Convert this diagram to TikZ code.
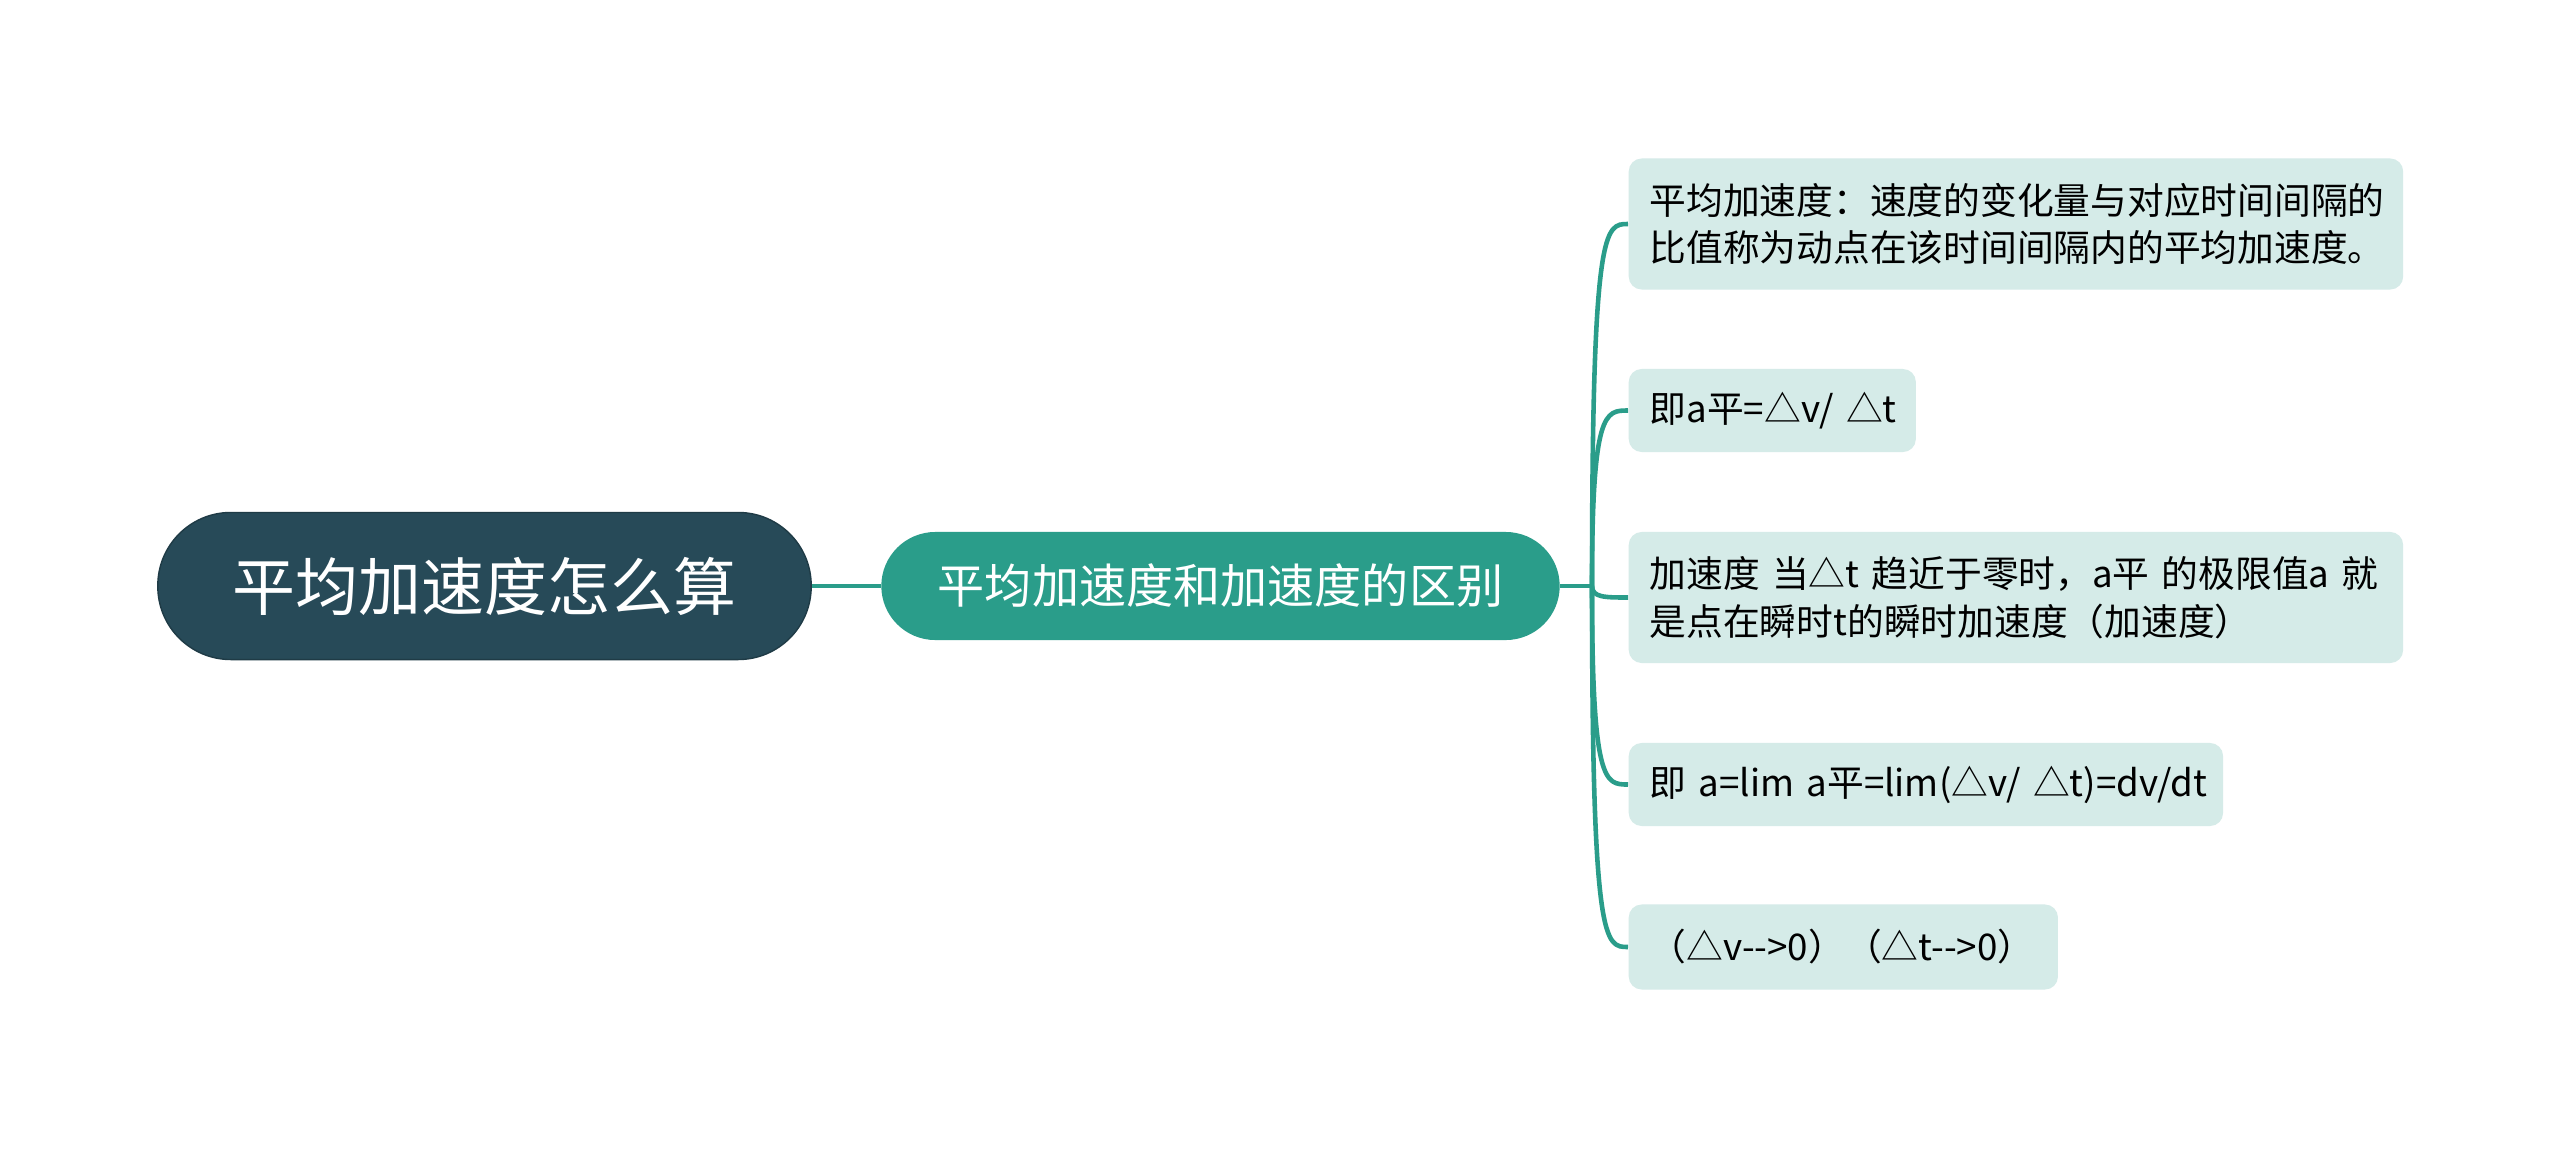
\documentclass[tikz,border=0pt]{standalone}
\usepackage{fontspec}
\setmainfont{Noto Sans CJK SC}
\definecolor{rootc}{HTML}{274A58}
\definecolor{subc}{HTML}{2A9D8A}
\definecolor{linec}{HTML}{2A9D8A}
\definecolor{leafc}{HTML}{D5EBE8}
\begin{document}
\begin{tikzpicture}[x=0.01cm,y=-0.01cm,
  rootbox/.style={fill=rootc,draw=rootc!80!black,line width=0.4pt,rounded corners=0.73cm,
    minimum width=6.53cm,minimum height=1.47cm,inner sep=0pt,text=white,
    font=\fontsize{17.9pt}{21pt}\selectfont},
  subbox/.style={fill=subc,rounded corners=0.54cm,minimum width=6.78cm,minimum height=1.08cm,
    inner sep=0pt,text=white,font=\fontsize{13.4pt}{16pt}\selectfont},
  leafbox/.style={fill=leafc,rounded corners=0.13cm,anchor=west,inner xsep=0.21cm,inner ysep=0pt,
    align=left,minimum height=#1,font=\fontsize{10.45pt}{13.5pt}\selectfont,text=black},
  conn/.style={draw=linec,line width=1.3pt}]
\useasboundingbox[fill=white] (0,0) rectangle (2560,1148);

\node[rootbox] (root) at (484.5,586) {平均加速度怎么算};
\node[subbox] (sub) at (1220.5,586) {平均加速度和加速度的区别};

\node[leafbox=1.31cm,text width=7.32cm] (l1) at (1628,224)
  {平均加速度：速度的变化量与对应时间间隔的\\比值称为动点在该时间间隔内的平均加速度。};
\node[leafbox=0.83cm,text width=2.45cm] (l2) at (1628,410.5)
  {\mbox{即a平=△v/ △t}};
\node[leafbox=1.31cm,text width=7.32cm] (l3) at (1628,597.5)
  {加速度 当△t 趋近于零时，a平 的极限值a 就\\是点在瞬时t的瞬时加速度（加速度）};
\node[leafbox=0.83cm,text width=5.52cm] (l4) at (1628,784.5)
  {\mbox{即 a=lim a平=lim(△v/ △t)=dv/dt}};
\node[leafbox=0.85cm,text width=3.87cm] (l5) at (1628,947)
  {\mbox{（△v-{}-{}>0）（△t-{}-{}>0）}};

\draw[conn] (root.east) -- (sub.west);
\coordinate (tr) at (1592,586);
\draw[conn] (sub.east) -- (tr);
\draw[conn] (tr) .. controls (1592,224) and (1605,224) .. (l1.west);
\draw[conn] (tr) .. controls (1592,410.5) and (1605,410.5) .. (l2.west);
\draw[conn] (tr) .. controls (1592,597.5) and (1605,597.5) .. (l3.west);
\draw[conn] (tr) .. controls (1592,784.5) and (1605,784.5) .. (l4.west);
\draw[conn] (tr) .. controls (1592,947) and (1605,947) .. (l5.west);
\end{tikzpicture}
\end{document}
